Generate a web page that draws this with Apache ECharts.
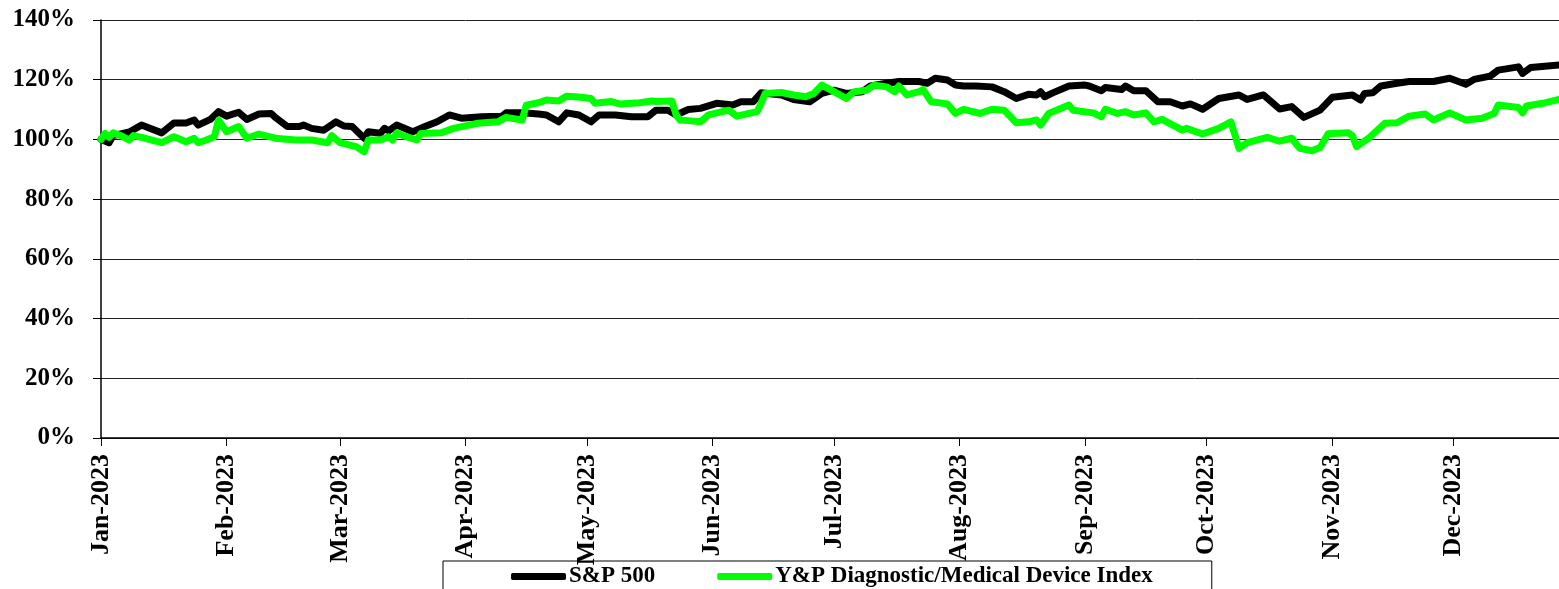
<!DOCTYPE html>
<html>
<head>
<meta charset="utf-8">
<script src="https://cdn.jsdelivr.net/npm/echarts@6/dist/echarts.min.js"></script>
<style>
  html, body { margin: 0; padding: 0; background: #fff; }
  #chart { width: 1559px; height: 589px; }
</style>
</head>
<body>
<div id="chart"></div>
<script>
const seriesNames = ['S&P 500', 'Y&P Diagnostic/Medical Device Index']
const monthNames = ['Jan', 'Feb', 'Mar', 'Apr', 'May', 'Jun', 'Jul', 'Aug', 'Sep', 'Oct', 'Nov', 'Dec']

const spDates = [
  '2023-01-01', '2023-01-03', '2023-01-04', '2023-01-08', '2023-01-11', '2023-01-16', '2023-01-19', '2023-01-22',
  '2023-01-24', '2023-01-25', '2023-01-28', '2023-01-30', '2023-02-01', '2023-02-04', '2023-02-06', '2023-02-09',
  '2023-02-12', '2023-02-13', '2023-02-16', '2023-02-19', '2023-02-20', '2023-02-22', '2023-02-25', '2023-02-28',
  '2023-03-02', '2023-03-04', '2023-03-07', '2023-03-08', '2023-03-11', '2023-03-12', '2023-03-13', '2023-03-15',
  '2023-03-19', '2023-03-22', '2023-03-25', '2023-03-28', '2023-03-31', '2023-04-05', '2023-04-10', '2023-04-11',
  '2023-04-15', '2023-04-19', '2023-04-21', '2023-04-24', '2023-04-26', '2023-04-29', '2023-05-02', '2023-05-04',
  '2023-05-08', '2023-05-12', '2023-05-16', '2023-05-18', '2023-05-21', '2023-05-23', '2023-05-26', '2023-05-29',
  '2023-06-02', '2023-06-06', '2023-06-08', '2023-06-11', '2023-06-13', '2023-06-18', '2023-06-21', '2023-06-25',
  '2023-06-28', '2023-07-01', '2023-07-04', '2023-07-08', '2023-07-10', '2023-07-14', '2023-07-17', '2023-07-22',
  '2023-07-24', '2023-07-26', '2023-07-29', '2023-07-31', '2023-08-02', '2023-08-05', '2023-08-09', '2023-08-12',
  '2023-08-15', '2023-08-18', '2023-08-20', '2023-08-21', '2023-08-22', '2023-08-24', '2023-08-28', '2023-09-01',
  '2023-09-02', '2023-09-05', '2023-09-06', '2023-09-10', '2023-09-11', '2023-09-13', '2023-09-16', '2023-09-19',
  '2023-09-22', '2023-09-25', '2023-09-27', '2023-09-30', '2023-10-04', '2023-10-09', '2023-10-11', '2023-10-15',
  '2023-10-19', '2023-10-22', '2023-10-25', '2023-10-29', '2023-11-01', '2023-11-06', '2023-11-08', '2023-11-09',
  '2023-11-11', '2023-11-13', '2023-11-17', '2023-11-20', '2023-11-26', '2023-11-30', '2023-12-04', '2023-12-06',
  '2023-12-10', '2023-12-12', '2023-12-17', '2023-12-18', '2023-12-20', '2023-12-27'
]
const spValues = [
  100, 98.9, 101.3, 102.5, 104.8, 102.2, 105.5, 105.5,
  106.5, 104.8, 106.7, 109.3, 107.8, 109.1, 106.7, 108.5,
  108.7, 107.4, 104.3, 104.3, 104.8, 103.7, 103.1, 105.9,
  104.5, 104.3, 100.4, 102.6, 102.1, 103.7, 102.9, 104.8,
  102.6, 104.3, 105.9, 108.2, 107.1, 107.6, 107.8, 108.9,
  108.9, 108.5, 108.2, 105.9, 108.9, 108.2, 105.9, 108.2,
  108.2, 107.6, 107.6, 109.8, 109.8, 108.2, 110.0, 110.4,
  112.1, 111.5, 112.6, 112.6, 115.6, 114.9, 113.4, 112.6,
  115.4, 116.5, 115.4, 116.0, 117.9, 118.8, 119.4, 119.4,
  118.8, 120.5, 119.9, 118.2, 117.9, 117.9, 117.6, 116.0,
  113.7, 115.1, 114.9, 116.0, 114.3, 115.6, 117.9, 118.2,
  117.9, 116.3, 117.4, 116.7, 117.9, 116.3, 116.3, 112.6,
  112.6, 111.2, 111.9, 110.1, 113.7, 114.9, 113.4, 114.9,
  110.2, 111.0, 107.4, 109.8, 114.1, 114.9, 113.2, 115.4,
  115.6, 117.9, 118.8, 119.4, 119.4, 120.5, 118.5, 120.1,
  121.2, 123.2, 124.3, 122.1, 124.1, 124.9
]

const ypDates = [
  '2023-01-01', '2023-01-02', '2023-01-03', '2023-01-04', '2023-01-06', '2023-01-08', '2023-01-09', '2023-01-11',
  '2023-01-16', '2023-01-19', '2023-01-22', '2023-01-24', '2023-01-25', '2023-01-27', '2023-01-29', '2023-01-30',
  '2023-02-01', '2023-02-04', '2023-02-06', '2023-02-09', '2023-02-13', '2023-02-18', '2023-02-22', '2023-02-26',
  '2023-02-27', '2023-03-01', '2023-03-05', '2023-03-07', '2023-03-08', '2023-03-11', '2023-03-13', '2023-03-14',
  '2023-03-15', '2023-03-17', '2023-03-20', '2023-03-21', '2023-03-26', '2023-03-29', '2023-04-04', '2023-04-09',
  '2023-04-11', '2023-04-15', '2023-04-16', '2023-04-19', '2023-04-21', '2023-04-24', '2023-04-26', '2023-04-29',
  '2023-05-02', '2023-05-03', '2023-05-07', '2023-05-09', '2023-05-14', '2023-05-17', '2023-05-18', '2023-05-22',
  '2023-05-23', '2023-05-24', '2023-05-26', '2023-05-29', '2023-05-31', '2023-06-05', '2023-06-07', '2023-06-12',
  '2023-06-13', '2023-06-14', '2023-06-18', '2023-06-21', '2023-06-24', '2023-06-26', '2023-06-28', '2023-07-01',
  '2023-07-04', '2023-07-06', '2023-07-09', '2023-07-11', '2023-07-14', '2023-07-16', '2023-07-17', '2023-07-19',
  '2023-07-22', '2023-07-23', '2023-07-25', '2023-07-29', '2023-07-31', '2023-08-02', '2023-08-06', '2023-08-09',
  '2023-08-12', '2023-08-15', '2023-08-18', '2023-08-20', '2023-08-21', '2023-08-23', '2023-08-28', '2023-08-29',
  '2023-09-03', '2023-09-05', '2023-09-06', '2023-09-09', '2023-09-11', '2023-09-13', '2023-09-16', '2023-09-18',
  '2023-09-20', '2023-09-25', '2023-09-26', '2023-09-30', '2023-10-04', '2023-10-07', '2023-10-09', '2023-10-11',
  '2023-10-16', '2023-10-19', '2023-10-22', '2023-10-24', '2023-10-27', '2023-10-29', '2023-10-31', '2023-11-05',
  '2023-11-06', '2023-11-07', '2023-11-10', '2023-11-14', '2023-11-17', '2023-11-20', '2023-11-24', '2023-11-26',
  '2023-11-30', '2023-12-04', '2023-12-08', '2023-12-11', '2023-12-12', '2023-12-17', '2023-12-18', '2023-12-19',
  '2023-12-23', '2023-12-27'
]
const ypValues = [
  100, 102.0, 100.7, 102.2, 101.2, 99.8, 101.3, 100.7,
  98.9, 100.9, 99.2, 100.4, 98.9, 99.8, 100.9, 106.5,
  102.6, 104.3, 100.4, 101.8, 100.4, 99.8, 99.8, 98.9,
  101.3, 98.9, 97.6, 95.9, 99.8, 99.8, 100.9, 99.8,
  102.2, 101.1, 99.8, 102.0, 102.2, 103.7, 105.4, 105.9,
  107.4, 106.5, 111.5, 112.3, 113.2, 112.9, 114.5, 114.2,
  113.7, 112.1, 112.7, 111.9, 112.3, 112.9, 112.7, 112.9,
  108.2, 106.5, 106.3, 105.9, 108.2, 109.8, 107.8, 109.3,
  112.1, 115.4, 115.7, 114.9, 114.3, 115.4, 118.2, 116.0,
  113.7, 116.0, 116.5, 118.2, 117.6, 116.0, 117.9, 114.9,
  116.0, 116.7, 112.6, 111.9, 108.7, 110.1, 108.7, 110.1,
  109.8, 105.6, 105.9, 106.5, 104.8, 108.7, 111.5, 109.8,
  108.9, 107.6, 110.1, 108.7, 109.3, 108.2, 108.9, 105.9,
  106.7, 103.1, 103.7, 101.8, 103.7, 105.9, 97.0, 98.9,
  100.7, 99.4, 100.4, 97.0, 96.2, 97.3, 101.9, 102.2,
  101.3, 97.6, 100.4, 105.4, 105.6, 107.8, 108.5, 106.5,
  108.9, 106.5, 107.1, 108.7, 111.5, 110.7, 108.9, 111.2,
  112.1, 113.4
]

const serif = '"Liberation Serif", "Times New Roman", "DejaVu Serif", serif'
const chart = echarts.init(document.getElementById('chart'))

chart.setOption({
  animation: false,
  backgroundColor: '#fff',
  grid: { left: 101, right: 0, top: 20, bottom: 151, containLabel: false },
  legend: {
    data: seriesNames,
    left: 443,
    top: 561,
    padding: [4, 59, 20, 68],
    borderColor: '#000',
    borderWidth: 1,
    itemGap: 62,
    itemWidth: 55,
    itemHeight: 7,
    icon: 'roundRect',
    textStyle: { fontFamily: serif, fontWeight: 'bold', fontSize: 23, color: '#000', padding: [0, 0, 0, -2] }
  },
  xAxis: {
    type: 'time',
    min: '2023-01-01',
    max: '2023-12-27',
    minInterval: 28 * 86400000,
    maxInterval: 31 * 86400000,
    axisLine: { lineStyle: { color: '#000', width: 1.5 } },
    axisTick: { show: true, length: 8, lineStyle: { color: '#000' } },
    splitLine: { show: false },
    minorTick: { show: false },
    axisLabel: {
      rotate: 90,
      margin: 16,
      showMaxLabel: false,
      fontFamily: serif,
      fontWeight: 'bold',
      fontSize: 26,
      color: '#000',
      formatter: (value) => {
        const d = new Date(value)
        return monthNames[d.getMonth()] + '-' + d.getFullYear()
      }
    }
  },
  yAxis: {
    type: 'value',
    min: 0,
    max: 140,
    interval: 20,
    axisLine: { show: true, lineStyle: { color: '#000', width: 1.5 } },
    axisTick: { show: true, length: 8, lineStyle: { color: '#000' } },
    splitLine: { lineStyle: { color: '#222', width: 1 } },
    axisLabel: {
      margin: 26,
      fontFamily: serif,
      fontWeight: 'bold',
      fontSize: 25,
      color: '#000',
      formatter: '{value}%'
    }
  },
  series: [
    {
      name: seriesNames[0],
      type: 'line',
      symbol: 'none',
      color: '#000000',
      lineStyle: { width: 7, color: '#000000', cap: 'round', join: 'round' },
      data: spDates.map((d, i) => [d, spValues[i]])
    },
    {
      name: seriesNames[1],
      type: 'line',
      symbol: 'none',
      color: '#00ff00',
      lineStyle: { width: 7, color: '#00ff00', cap: 'round', join: 'round' },
      data: ypDates.map((d, i) => [d, ypValues[i]])
    }
  ]
})
</script>
</body>
</html>
